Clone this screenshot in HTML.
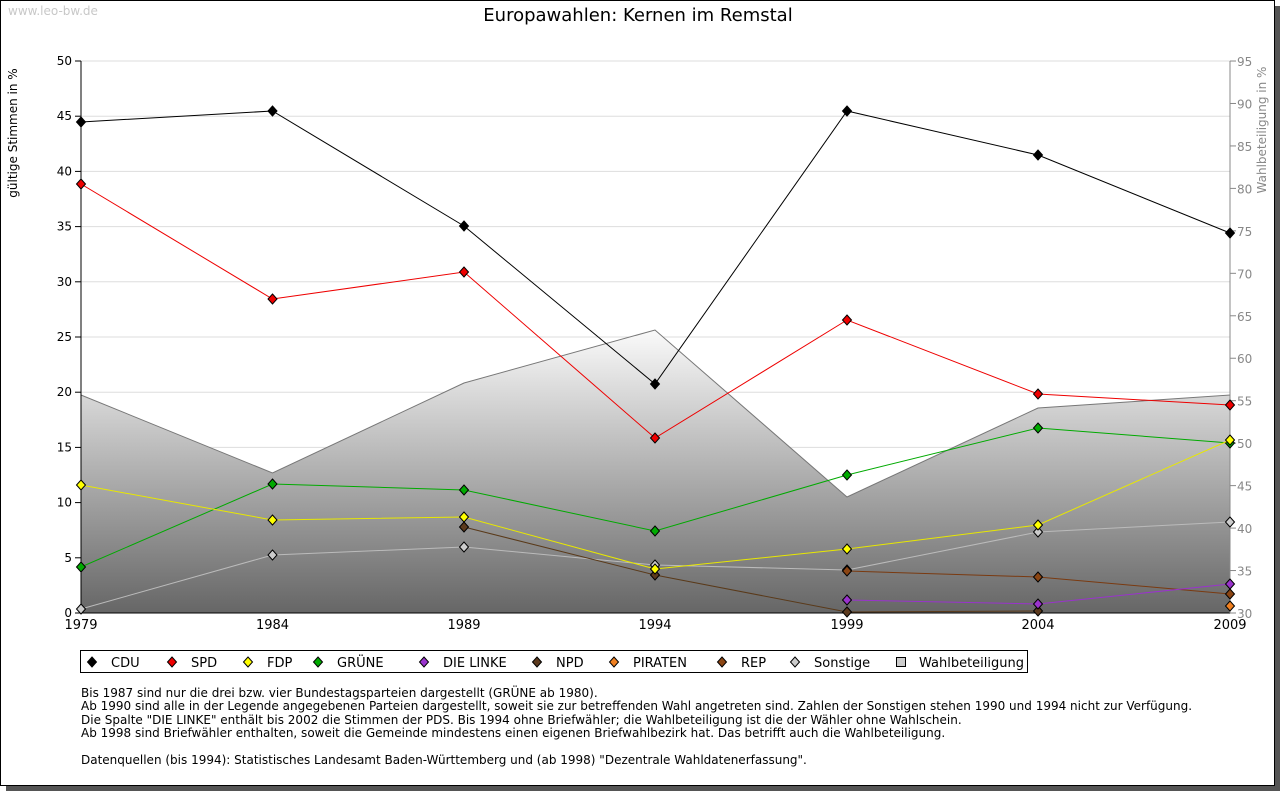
<!DOCTYPE html>
<html><head><meta charset="utf-8"><style>
body{margin:0;background:#fff;width:1280px;height:791px;overflow:hidden;font-family:"Liberation Sans","DejaVu Sans",sans-serif}
#frame{position:absolute;left:0;top:0;width:1273px;height:784px;border:1px solid #000;background:#fff;box-shadow:6px 6px 0 #555}
svg{position:absolute;left:0;top:0}
.note{position:absolute;left:81px;top:687px;font-size:12px;line-height:13.4px;color:#000;font-family:"DejaVu Sans",sans-serif;white-space:pre}
</style></head><body>
<div id="frame"></div>
<svg id="s" width="1280" height="791" font-family="DejaVu Sans, sans-serif"></svg>
<div class="note">Bis 1987 sind nur die drei bzw. vier Bundestagsparteien dargestellt (GRÜNE ab 1980).
Ab 1990 sind alle in der Legende angegebenen Parteien dargestellt, soweit sie zur betreffenden Wahl angetreten sind. Zahlen der Sonstigen stehen 1990 und 1994 nicht zur Verfügung.
Die Spalte "DIE LINKE" enthält bis 2002 die Stimmen der PDS. Bis 1994 ohne Briefwähler; die Wahlbeteiligung ist die der Wähler ohne Wahlschein.
Ab 1998 sind Briefwähler enthalten, soweit die Gemeinde mindestens einen eigenen Briefwahlbezirk hat. Das betrifft auch die Wahlbeteiligung.

Datenquellen (bis 1994): Statistisches Landesamt Baden-Württemberg und (ab 1998) "Dezentrale Wahldatenerfassung".</div>
<script>
const X=[81,272.5,464,655,847,1038,1230];
let h='<defs><linearGradient id="g" x1="0" y1="330" x2="0" y2="613" gradientUnits="userSpaceOnUse"><stop offset="0" stop-color="#fafafa"/><stop offset="1" stop-color="#666"/></linearGradient></defs>';
h+='<text x="8" y="15" font-size="12" fill="#c8c8c8">www.leo-bw.de</text>';
h+='<text x="638" y="21" font-size="18" text-anchor="middle">Europawahlen: Kernen im Remstal</text>';
for(let v=0;v<=50;v+=5){const y=613-v*11.04;h+=`<line x1="81" x2="1230" y1="${y}" y2="${y}" stroke="#ddd"/><line x1="75" x2="81" y1="${y}" y2="${y}" stroke="#000"/><text x="72" y="${y+4}" font-size="12" text-anchor="end">${v}</text>`;}
for(let v=30;v<=95;v+=5){const y=613-(v-30)*8.492;h+=`<line x1="1230" x2="1236" y1="${y}" y2="${y}" stroke="#888"/><text x="1237" y="${y+5}" font-size="12" fill="#888">${v}</text>`;}
const W=[395,473,383,330,497,408,395];
h+=`<polygon points="81,613 ${W.map((y,i)=>X[i]+','+y).join(' ')} 1230,613" fill="url(#g)" stroke="#777"/>`;
h+='<line x1="81" y1="61" x2="81" y2="613" stroke="#000"/><line x1="81" y1="613" x2="1230" y2="613" stroke="#000"/><line x1="1230" y1="61" x2="1230" y2="613" stroke="#888"/>';
['1979','1984','1989','1994','1999','2004','2009'].forEach((t,i)=>h+=`<text x="${X[i]}" y="629" font-size="13" text-anchor="middle">${t}</text>`);
h+='<text transform="translate(17,133) rotate(-90)" font-size="12" text-anchor="middle">gültige Stimmen in %</text>';
h+='<text transform="translate(1266,130) rotate(-90)" font-size="12" text-anchor="middle" fill="#888">Wahlbeteiligung in %</text>';
const S=[
['#bbb','#ccc',[609,555,547,565,570,532,522]],
['#7a3a10','#8b4513',[null,null,null,null,571,577,594]],
['#5a3a1a','#5c3a1e',[null,null,527,575,612,611,null]],
['#9933cc','#9933cc',[null,null,null,null,600,604,584]],
['#e07000','#f08020',[null,null,null,null,null,null,606]],
['#00aa00','#00aa00',[567,484,490,531,475,428,443]],
['#e8e800','#ffff00',[485,520,517,569,549,525,440]],
['#ee0000','#ee0000',[184,299,272,438,320,394,405]],
['#000','#000',[122,111,226,384,111,155,233]]];
const dm=(x,y)=>`M${x},${y-5}L${x+4.5},${y}L${x},${y+5}L${x-4.5},${y}Z`;
S.forEach(([c,f,d])=>{let p=[];d.forEach((y,i)=>{if(y!=null)p.push(X[i]+','+y)});if(p.length>1)h+=`<polyline points="${p.join(' ')}" fill="none" stroke="${c}"/>`;d.forEach((y,i)=>{if(y!=null)h+=`<path d="${dm(X[i],y)}" fill="${f}" stroke="#000"/>`});});
h+='<rect x="80.5" y="650.5" width="947" height="22" fill="#fff" stroke="#000"/>';
const L=[['CDU','#000',92],['SPD','#ee0000',172],['FDP','#ffff00',248],['GRÜNE','#00aa00',318],['DIE LINKE','#9933cc',424],['NPD','#5c3a1e',537],['PIRATEN','#f08020',614],['REP','#8b4513',722],['Sonstige','#ccc',795]];
L.forEach(([t,c,x])=>h+=`<path d="${dm(x,662)}" fill="${c}" stroke="#000"/><text x="${x+19}" y="667" font-size="13">${t}</text>`);
h+='<rect x="896.5" y="657.5" width="9" height="9" fill="#ccc" stroke="#000"/><text x="919" y="667" font-size="13">Wahlbeteiligung</text>';
document.getElementById('s').innerHTML=h;
</script>
</body></html>
